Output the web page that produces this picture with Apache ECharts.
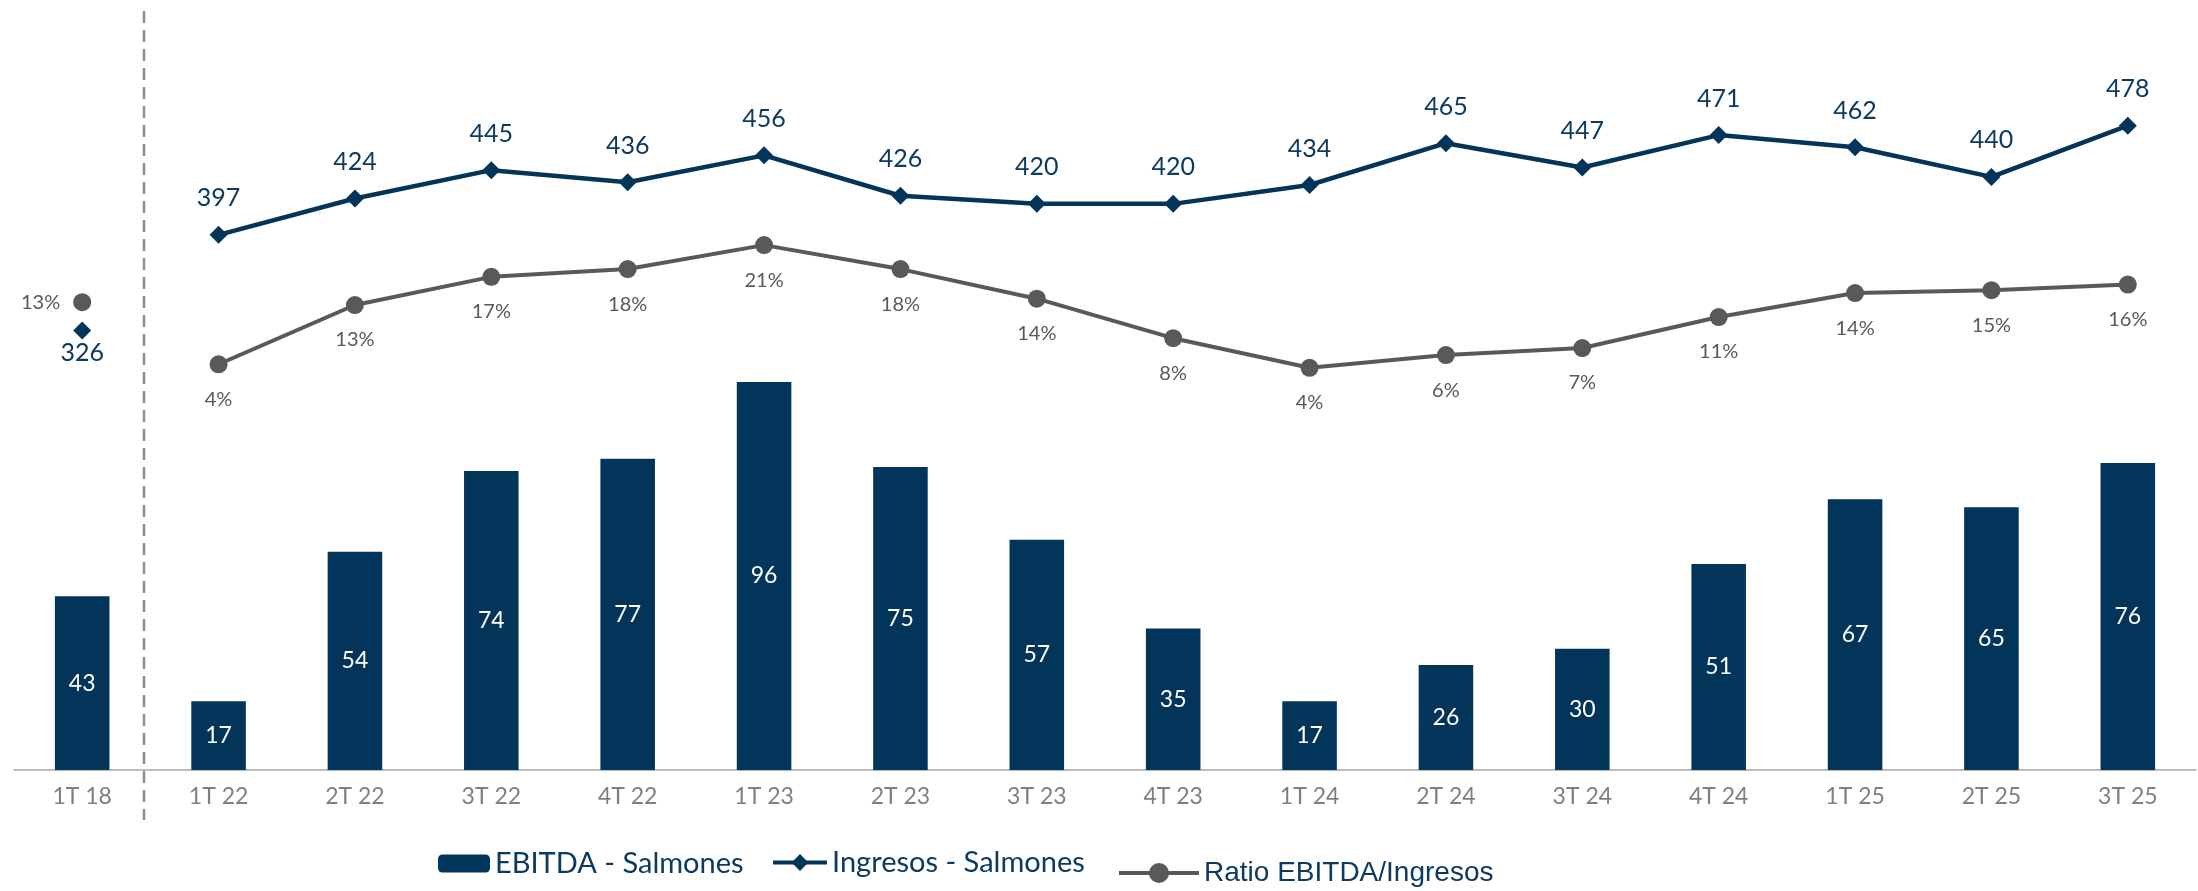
<!DOCTYPE html>
<html>
<head>
<meta charset="utf-8">
<script src="https://cdn.jsdelivr.net/npm/echarts@6/dist/echarts.min.js"></script>
<style>
  html, body { margin: 0; padding: 0; background: #fff; }
  #chart { width: 2198px; height: 891px; }
</style>
</head>
<body>
<div id="chart"></div>
<script>
// datos
const categories = ['1T 18', '1T 22', '2T 22', '3T 22', '4T 22', '1T 23', '2T 23', '3T 23',
  '4T 23', '1T 24', '2T 24', '3T 24', '4T 24', '1T 25', '2T 25', '3T 25'];
const ebitda = [43, 17, 54, 74, 77, 96, 75, 57, 35, 17, 26, 30, 51, 67, 65, 76];
const ingresos = [326, 397, 424, 445, 436, 456, 426, 420, 420, 434, 465, 447, 471, 462, 440, 478];
const ratio = [13.1, 4.3, 12.7, 16.7, 17.8, 21.2, 17.8, 13.6, 8.0, 3.8, 5.6, 6.6, 11.0, 14.4, 14.8, 15.6];

const NAVY = '#03355a';
const GRAY = '#595959';
const FONT = 'Lato';

// el primer trimestre (1T 18) va separado, sin linea hacia 1T 22
const onlyFirst = arr => arr.map((v, i) => (i === 0 ? v : '-'));
const withoutFirst = arr => arr.map((v, i) => (i === 0 ? '-' : v));

const chart = echarts.init(document.getElementById('chart'));

const option = {
  animation: false,
  textStyle: { fontFamily: FONT },
  grid: { left: 14, right: 2, top: 20, bottom: 121, outerBoundsMode: 'none' },
  legend: [
    {
      data: ['EBITDA - Salmones'],
      left: 438, top: 849, padding: 0,
      itemWidth: 52, itemHeight: 18,
      textStyle: { fontFamily: FONT, fontSize: 29, color: '#0c3a61' }
    },
    {
      data: ['Ingresos - Salmones'],
      left: 771, top: 848, padding: 0,
      itemWidth: 54, itemHeight: 21,
      lineStyle: { width: 4 },
      textStyle: { fontFamily: FONT, fontSize: 29, color: '#0c3a61' }
    },
    {
      data: ['Ratio EBITDA/Ingresos'],
      left: 1117, top: 859, padding: 0,
      itemWidth: 80, itemHeight: 25,
      lineStyle: { width: 4 },
      textStyle: { fontFamily: 'Liberation Sans', fontSize: 28, color: '#0c3a61' }
    }
  ],
  xAxis: {
    type: 'category',
    data: categories,
    boundaryGap: true,
    axisTick: { show: false },
    axisLine: { lineStyle: { color: '#a6a6a6', width: 1.5 } },
    axisLabel: { color: '#7f7f7f', fontSize: 23, margin: 15, fontFamily: FONT },
    splitLine: { show: false }
  },
  yAxis: [
    { type: 'value', min: 0, max: 185.6, show: false, splitLine: { show: false } },
    { type: 'value', min: 0, max: 556.4, show: false, splitLine: { show: false } },
    { type: 'value', min: -53.25, max: 53.13, show: false, splitLine: { show: false } }
  ],
  series: [
    {
      name: 'EBITDA - Salmones',
      type: 'bar',
      yAxisIndex: 0,
      data: ebitda,
      barWidth: '40%',
      itemStyle: { color: NAVY },
      label: { show: true, position: 'inside', color: '#fff', fontSize: 23, fontFamily: FONT }
    },
    {
      name: 'Ingresos - Salmones',
      type: 'line',
      yAxisIndex: 1,
      data: withoutFirst(ingresos),
      symbol: 'diamond',
      symbolSize: 18,
      lineStyle: { color: NAVY, width: 4.5 },
      itemStyle: { color: NAVY },
      label: { show: true, position: 'top', distance: 15, color: '#0c3a61', fontSize: 25, fontFamily: FONT }
    },
    {
      name: 'ing18',
      type: 'line',
      yAxisIndex: 1,
      data: onlyFirst(ingresos),
      symbol: 'diamond',
      symbolSize: 18,
      itemStyle: { color: NAVY },
      label: { show: true, position: 'bottom', distance: 1, color: '#0c3a61', fontSize: 25, fontFamily: FONT }
    },
    {
      name: 'Ratio EBITDA/Ingresos',
      type: 'line',
      yAxisIndex: 2,
      data: withoutFirst(ratio),
      symbol: 'circle',
      symbolSize: 18,
      lineStyle: { color: GRAY, width: 4 },
      itemStyle: { color: GRAY },
      label: {
        show: true, position: 'bottom', distance: 16, color: GRAY, fontSize: 20, fontFamily: FONT,
        formatter: p => Math.round(p.value) + '%'
      }
    },
    {
      name: 'ratio18',
      type: 'line',
      yAxisIndex: 2,
      data: onlyFirst(ratio),
      symbol: 'circle',
      symbolSize: 18,
      itemStyle: { color: GRAY },
      label: {
        show: true, position: 'left', distance: 13, color: GRAY, fontSize: 20, fontFamily: FONT,
        formatter: p => Math.round(p.value) + '%'
      }
    }
  ]
};

chart.setOption(option);

// linea punteada que separa 1T 18 del resto
const x0 = chart.convertToPixel({ xAxisIndex: 0 }, categories[0]);
const x1 = chart.convertToPixel({ xAxisIndex: 0 }, categories[1]);
const sepX = Math.round(x0 + (x1 - x0) * 0.45);
chart.setOption({
  graphic: [{
    type: 'line',
    shape: { x1: sepX, y1: 11, x2: sepX, y2: 820 },
    style: { stroke: '#8c8c8c', lineWidth: 2.5, lineDash: [12, 7] },
    silent: true
  }]
});
</script>
</body>
</html>
